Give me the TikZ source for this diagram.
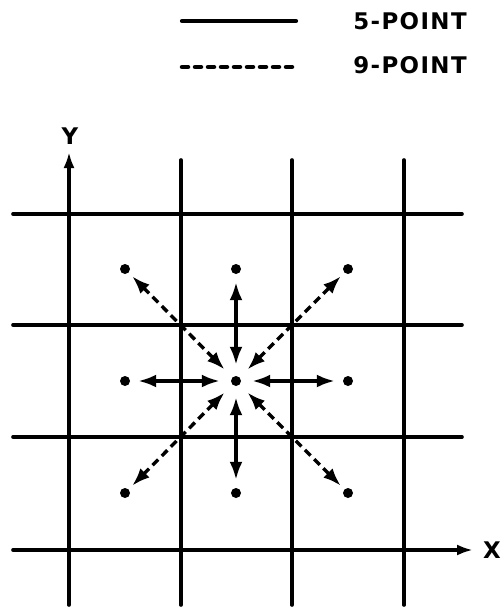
\documentclass[tikz,border=0pt]{standalone}
\usepackage{fontspec}
\newfontfamily\lblfont[LetterSpace=6.0]{DejaVu Sans}
\usetikzlibrary{arrows.meta}
\begin{document}
\begin{tikzpicture}[x=1bp,y=-1bp,
  grid/.style={line width=3.6bp, line cap=round},
  axis/.style={line width=3.6bp, line cap=round, -{Latex[length=16bp,width=11bp]}},
  dot/.style={circle, fill=black, inner sep=0pt, minimum size=10bp},
  fivept/.style={line width=3.4bp, {Latex[length=18bp,width=13bp]}-{Latex[length=18bp,width=13bp]}, shorten <=11bp, shorten >=8bp},
  ninept/.style={line width=3.4bp, dash pattern=on 8bp off 5bp, {Latex[length=18bp,width=13bp]}-{Latex[length=18bp,width=13bp]}, shorten <=11bp, shorten >=5bp},
  lbl/.style={font=\lblfont\bfseries\fontsize{23}{23}\selectfont, inner sep=0pt}]
\useasboundingbox (0,0) rectangle (501,607);
% legend
\coordinate (s1) at (182,21); \coordinate (s2) at (296,21);
\coordinate (q1) at (182,67); \coordinate (q2) at (296,67);
\draw[line width=4.2bp, line cap=round] (s1) -- (s2);
\draw[line width=4.5bp, line cap=round, dash pattern=on 6bp off 7bp] (q1) -- (q2);
\node[lbl] (l5) at (410,21) {5-POINT};
\node[lbl] (l9) at (410,65) {9-POINT};
% grid
\coordinate (yb) at (69,605); \coordinate (yt) at (69,152);
\draw[axis] (yb) -- (yt);
\node[lbl] (ylab) at (70,136) {Y};
\foreach \x [count=\i] in {181,292,404}{
  \coordinate (vb\i) at (\x,605); \coordinate (vt\i) at (\x,160);
  \draw[grid] (vb\i) -- (vt\i);
}
\foreach \y [count=\i] in {214,325,437}{
  \coordinate (hl\i) at (13,\y); \coordinate (hr\i) at (462,\y);
  \draw[grid] (hl\i) -- (hr\i);
}
\coordinate (xl) at (13,550); \coordinate (xr) at (473,550);
\draw[axis] (xl) -- (xr);
\node[lbl] (xlab) at (492,550) {X};
% dots
\foreach \x [count=\i] in {125,236,348}{
  \foreach \y [count=\j] in {269,381,493}{
    \node[dot] (d\i\j) at (\x,\y) {};
  }
}
% arrows
\draw[fivept] (d22) -- (d21);
\draw[fivept] (d22) -- (d23);
\draw[fivept] (d22) -- (d12);
\draw[fivept] (d22) -- (d32);
\draw[ninept] (d22) -- (d11);
\draw[ninept] (d22) -- (d31);
\draw[ninept] (d22) -- (d13);
\draw[ninept] (d22) -- (d33);
\end{tikzpicture}
\end{document}
